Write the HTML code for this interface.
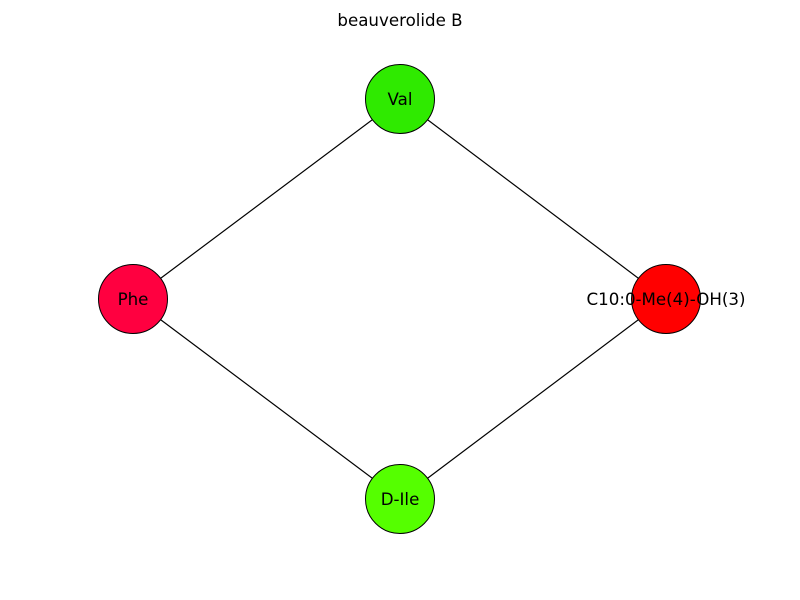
<!DOCTYPE html>
<html><head><meta charset="utf-8"><style>
html,body{margin:0;padding:0;background:#fff;width:800px;height:600px;overflow:hidden}
</style></head><body>
<svg width="800" height="600" xmlns="http://www.w3.org/2000/svg" font-family="'DejaVu Sans', sans-serif">
<rect width="800" height="600" fill="#fff"/>
<text x="400" y="26" font-size="16.67" text-anchor="middle" fill="#000">beauverolide B</text>
<g stroke="#000" stroke-width="1.2">
<line x1="400" y1="99" x2="133" y2="299"/>
<line x1="400" y1="99" x2="666" y2="299"/>
<line x1="133" y1="299" x2="400" y2="499"/>
<line x1="666" y1="299" x2="400" y2="499"/>
</g>
<g stroke="#000" stroke-width="1">
<circle cx="400" cy="99" r="34.5" fill="#2fea00"/>
<circle cx="133" cy="299" r="34.5" fill="#ff0040"/>
<circle cx="666" cy="299" r="34.5" fill="#ff0000"/>
<circle cx="400" cy="499" r="34.5" fill="#55ff00"/>
</g>
<g font-size="16.67" text-anchor="middle" fill="#000">
<text x="400" y="105">Val</text>
<text x="133" y="305">Phe</text>
<text x="666" y="305">C10:0-Me(4)-OH(3)</text>
<text x="400" y="505">D-Ile</text>
</g>
</svg>
</body></html>
